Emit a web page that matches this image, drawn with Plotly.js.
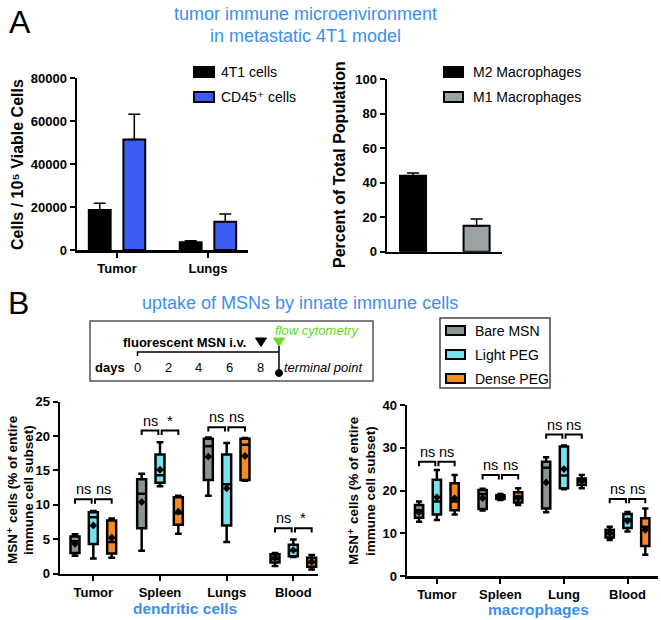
<!DOCTYPE html>
<html><head><meta charset="utf-8">
<script src="https://cdn.plot.ly/plotly-3.0.1.min.js"></script>
<style>body{margin:0;background:#fff}#chart{width:661px;height:620px}</style>
</head><body><div id="chart"></div>
<script>
// ---------- DATA ----------
const aCats = ['Tumor', 'Lungs'];
const a4t1Name = '4T1 cells';
const a4t1 = [18600, 3600];
const a4t1Err = [3100, 750];
const aCd45Name = 'CD45⁺ cells';
const aCd45 = [51400, 13150];
const aCd45Err = [11700, 3550];

const macNames = ['M2 Macrophages', 'M1 Macrophages'];
const macVals = [44.1, 15.1];
const macErr = [1.5, 3.9];

const bCatsDC = ['Tumor', 'Spleen', 'Lungs', 'Blood'];
const bCatsMac = ['Tumor', 'Spleen', 'Lung', 'Blood'];
const groupNames = ['Bare MSN', 'Light PEG', 'Dense PEG'];

// dendritic cells: [Bare, Light, Dense], each per category
const dcLower  = [[2.6, 3.3, 11.3, 1.1], [2.2, 12.7, 4.6, 2.4], [2.3, 5.8, 13.5, 0.6]];
const dcQ1     = [[3.0, 6.6, 13.6, 1.6], [4.3, 13.2, 7.0, 2.5], [2.9, 7.1, 13.6, 1.0]];
const dcMedian = [[4.7, 11.6, 18.5, 2.1], [8.2, 14.3, 13.0, 3.4], [4.6, 8.75, 18.75, 1.6]];
const dcQ3     = [[5.4, 13.7, 19.6, 2.8], [8.9, 17.3, 17.3, 4.2], [7.7, 11.1, 19.6, 2.3]];
const dcUpper  = [[5.7, 14.5, 19.8, 3.0], [9.1, 19.1, 19.0, 4.95], [8.0, 11.3, 19.7, 2.7]];
const dcMean   = [[4.3, 10.4, 17.0, 2.3], [7.0, 15.1, 12.4, 3.4], [5.2, 9.0, 17.1, 1.7]];
const dcSig    = [['ns', 'ns'], ['ns', '*'], ['ns', 'ns'], ['ns', '*']];
const dcSigY   = [10.8, 20.8, 21.3, 6.6];

// macrophages
const macLower  = [[12.7, 15.3, 14.9, 8.4], [13.1, 17.8, 20.3, 10.4], [14.4, 16.6, 20.5, 5.0]];
const macQ1     = [[13.6, 15.7, 15.8, 9.0], [14.4, 18.0, 20.5, 11.2], [15.4, 17.2, 21.3, 7.0]];
const macMedian = [[15.4, 19.2, 25.3, 10.0], [17.4, 18.6, 23.5, 13.3], [17.4, 18.6, 22.2, 11.5]];
const macQ3     = [[16.6, 20.1, 26.7, 10.8], [22.5, 18.9, 30.3, 14.5], [21.7, 19.6, 22.8, 13.5]];
const macUpper  = [[17.4, 20.4, 27.8, 11.5], [24.8, 19.2, 30.5, 15.0], [23.6, 20.5, 23.6, 15.8]];
const macMean   = [[14.9, 18.2, 21.9, 10.0], [18.4, 18.6, 25.0, 12.9], [18.2, 18.2, 22.2, 10.8]];
const macSig    = [['ns', 'ns'], ['ns', 'ns'], ['ns', 'ns'], ['ns', 'ns']];
const macSigY   = [26.7, 23.6, 33.1, 18.0];

const timelineDays = [0, 2, 4, 6, 8];

// ---------- STYLE ----------
const W = 661, H = 620;
const X = p => p / W, Y = p => 1 - p / H;
const FONT = 'Liberation Sans, Arial, Helvetica, DejaVu Sans, sans-serif';
const BLUE_T = '#3b8ff0';
const groupColors = ['#8a9396', '#74e3ee', '#f58a24'];
const aColors = ['#000000', '#3b5cf0'];
const macColors = ['#000000', '#9ba3a6'];

function axisStyle(extra) {
  return Object.assign({
    showline: true, linecolor: '#000', linewidth: 2.5, mirror: false,
    ticks: 'outside', ticklen: 5, tickwidth: 2, tickcolor: '#000',
    showgrid: false, zeroline: false, fixedrange: true,
    tickfont: {family: FONT, size: 13, color: '#000', weight: 'bold'}
  }, extra);
}

const traces = [];
// Panel A left bars
traces.push({type: 'bar', x: aCats, y: a4t1, name: a4t1Name, xaxis: 'x', yaxis: 'y',
  width: 0.24, offset: -0.31,
  marker: {color: aColors[0], line: {color: '#000', width: 2}},
  error_y: {type: 'data', symmetric: false, array: a4t1Err, arrayminus: a4t1Err.map(() => 0), color: '#000', thickness: 1.5, width: 6},
  showlegend: false});
traces.push({type: 'bar', x: aCats, y: aCd45, name: aCd45Name, xaxis: 'x', yaxis: 'y',
  width: 0.24, offset: 0.07,
  marker: {color: aColors[1], line: {color: '#000', width: 2}},
  error_y: {type: 'data', symmetric: false, array: aCd45Err, arrayminus: aCd45Err.map(() => 0), color: '#000', thickness: 1.5, width: 6},
  showlegend: false});
// Panel A right bars
macNames.forEach((n, i) => {
  traces.push({type: 'bar', x: [i], y: [macVals[i]], name: n, xaxis: 'x2', yaxis: 'y2',
    width: 0.41,
    marker: {color: macColors[i], line: {color: '#000', width: 2}},
    error_y: {type: 'data', symmetric: false, array: [macErr[i]], arrayminus: [0], color: '#000', thickness: 1.5, width: 6},
    showlegend: false});
});

// Panel B box plots
function addBoxes(cats, lower, q1, med, q3, upper, mean, offs, w, xa, ya) {
  groupNames.forEach((g, gi) => {
    const xs = cats.map((c, i) => i + offs[gi]);
    traces.push({type: 'box', name: g, x: xs, q1: q1[gi], median: med[gi], q3: q3[gi],
      lowerfence: lower[gi], upperfence: upper[gi],
      width: w, whiskerwidth: 0.75, boxpoints: false,
      fillcolor: groupColors[gi], line: {color: '#000', width: 2.5},
      xaxis: xa, yaxis: ya, showlegend: false, hoverinfo: 'skip'});
    traces.push({type: 'scatter', mode: 'markers', x: xs, y: mean[gi],
      marker: {symbol: 'diamond', size: 6, color: '#000'},
      xaxis: xa, yaxis: ya, showlegend: false, hoverinfo: 'skip'});
  });
}
const dcOff = [-0.275, 0, 0.275];
const macOff = [-0.28, 0, 0.28];
addBoxes(bCatsDC, dcLower, dcQ1, dcMedian, dcQ3, dcUpper, dcMean, dcOff, 0.135, 'x3', 'y3');
addBoxes(bCatsMac, macLower, macQ1, macMedian, macQ3, macUpper, macMean, macOff, 0.13, 'x4', 'y4');

// ---------- SHAPES & ANNOTATIONS ----------
const shapes = [];
const annotations = [];
function ann(text, x, y, o) {
  o = o || {};
  annotations.push({text: text, xref: o.xref || 'paper', yref: o.yref || 'paper',
    x: o.xref ? x : X(x), y: o.yref ? y : Y(y), showarrow: false,
    xanchor: o.xanchor || 'center', yanchor: o.yanchor || 'middle',
    textangle: o.angle || 0,
    font: {family: FONT, size: o.size || 13, color: o.color || '#000', weight: o.bold ? 'bold' : 'normal', style: o.italic ? 'italic' : 'normal'}});
}
function rect(x0, y0, x1, y1, fill, lw, lc) {
  shapes.push({type: 'rect', xref: 'paper', yref: 'paper', x0: X(x0), x1: X(x1), y0: Y(y1), y1: Y(y0),
    fillcolor: fill || 'rgba(0,0,0,0)', line: {color: lc || '#000', width: lw}});
}
function pathPx(pts, fill, lw, lc) {
  const d = pts.map((p, i) => (i ? 'L' : 'M') + X(p[0]) + ',' + Y(p[1])).join(' ') + (fill ? ' Z' : '');
  shapes.push({type: 'path', xref: 'paper', yref: 'paper', path: d,
    fillcolor: fill || 'rgba(0,0,0,0)', line: {color: lc || '#000', width: lw}});
}

// Panel letters and titles
ann('A', 20, 22, {size: 32});
ann('B', 18, 303, {size: 32});
ann('tumor immune microenvironment', 305, 14, {size: 18, color: BLUE_T});
ann('in metastatic 4T1 model', 305, 36, {size: 18, color: BLUE_T});
ann('uptake of MSNs by innate immune cells', 300, 303, {size: 18, color: BLUE_T});

// axis titles
ann('Cells / 10⁵ Viable Cells', 17, 165, {angle: -90, size: 16, bold: true});
ann('Percent of Total Population', 339, 165, {angle: -90, size: 16, bold: true});
ann('MSN⁺ cells (% of entire', 12, 490, {angle: -90, size: 13.5, bold: true});
ann('immune cell subset)', 28, 490, {angle: -90, size: 13.5, bold: true});
ann('MSN⁺ cells (% of entire', 353, 491, {angle: -90, size: 13.5, bold: true});
ann('immune cell subset)', 370, 491, {angle: -90, size: 13.5, bold: true});
ann('dendritic cells', 185, 608, {size: 15.5, color: BLUE_T, bold: true});
ann('macrophages', 538, 609, {size: 15.5, color: BLUE_T, bold: true});

// Panel A legends
rect(194, 67, 214, 77, aColors[0], 2);
rect(194, 92, 214, 102, aColors[1], 2);
ann(a4t1Name, 219, 72, {xanchor: 'left', size: 14});
ann(aCd45Name, 219, 97, {xanchor: 'left', size: 14});
rect(444, 67, 463, 77, macColors[0], 2);
rect(444, 92, 463, 102, macColors[1], 2);
ann(macNames[0], 471, 72, {xanchor: 'left', size: 14});
ann(macNames[1], 471, 97, {xanchor: 'left', size: 14});

// Panel B legend
rect(440, 318, 550, 388, null, 1.5, '#444');
[331, 355, 379].forEach((yy, i) => {
  rect(446, yy - 5, 465, yy + 4, groupColors[i], 2);
  ann(groupNames[i], 473, yy, {xanchor: 'left', size: 14});
});

// Timeline
rect(90, 321, 373, 381, null, 1.5, '#555');
const day0 = 137.5, dayPx = 15.35;
pathPx([[day0, 356], [day0, 352], [279, 352]], null, 1.5);
ann('fluorescent MSN i.v.', 184, 342, {bold: true});
ann('days', 110, 367, {bold: true});
timelineDays.forEach(d => ann(String(d), day0 + d * dayPx, 367));
pathPx([[255.5, 338], [266.5, 338], [261, 346.5]], '#000', 1);
pathPx([[273.5, 338], [284.5, 338], [279, 346.5]], '#66dd22', 1, '#66dd22');
pathPx([[279, 346], [279, 372]], null, 1.5);
shapes.push({type: 'circle', xref: 'paper', yref: 'paper', x0: X(275.5), x1: X(282.5), y0: Y(376.5), y1: Y(369.5), fillcolor: '#000', line: {color: '#000', width: 1}});
ann('flow cytometry', 317, 331, {color: '#5fd523', italic: true});
ann('terminal point', 323, 367, {italic: true});

// Significance brackets
function brackets(sig, sigY, offs, drop, xa, ya) {
  sig.forEach((pair, i) => {
    const h = sigY[i];
    const segs = [[i + offs[0], i - 0.025], [i + 0.025, i + offs[2]]];
    segs.forEach((s, k) => {
      shapes.push({type: 'path', xref: xa, yref: ya,
        path: `M${s[0]},${h - drop} L${s[0]},${h} L${s[1]},${h} L${s[1]},${h - drop}`,
        line: {color: '#000', width: 2}});
      annotations.push({text: pair[k], xref: xa, yref: ya, x: (s[0] + s[1]) / 2, y: h,
        showarrow: false, xanchor: 'center', yanchor: 'bottom',
        font: {family: FONT, size: pair[k] === '*' ? 15 : 14.5, color: '#000'}});
    });
  });
}
brackets(dcSig, dcSigY, dcOff, 0.65, 'x3', 'y3');
brackets(macSig, macSigY, macOff, 1.0, 'x4', 'y4');

const layout = {
  width: W, height: H, margin: {l: 0, r: 0, t: 0, b: 0},
  paper_bgcolor: '#fff', plot_bgcolor: 'rgba(0,0,0,0)',
  showlegend: false, barmode: 'overlay', boxmode: 'overlay',
  font: {family: FONT, color: '#000'},
  xaxis: axisStyle({domain: [X(77), X(248)], anchor: 'y', type: 'category', range: [-0.44, 1.44]}),
  yaxis: axisStyle({domain: [Y(250), Y(78)], anchor: 'x', range: [0, 80000], tickvals: [0, 20000, 40000, 60000, 80000], tickformat: 'd'}),
  xaxis2: axisStyle({domain: [X(387), X(502)], anchor: 'y2', range: [-0.41, 1.40], showticklabels: false, ticks: ''}),
  yaxis2: axisStyle({domain: [Y(251.7), Y(79.3)], anchor: 'x2', range: [0, 100], dtick: 20}),
  xaxis3: axisStyle({domain: [X(60), X(318)], anchor: 'y3', range: [-0.5, 3.37], tickvals: bCatsDC.map((c, i) => i), ticktext: bCatsDC}),
  yaxis3: axisStyle({domain: [Y(573.5), Y(401.7)], anchor: 'x3', range: [0, 25], dtick: 5}),
  xaxis4: axisStyle({domain: [X(407), X(658)], anchor: 'y4', range: [-0.47, 3.48], tickvals: bCatsMac.map((c, i) => i), ticktext: bCatsMac}),
  yaxis4: axisStyle({domain: [Y(576), Y(405)], anchor: 'x4', range: [0, 40], dtick: 10}),
  shapes: shapes, annotations: annotations
};

Plotly.newPlot('chart', traces, layout, {staticPlot: true, displayModeBar: false});
</script>
</body></html>
